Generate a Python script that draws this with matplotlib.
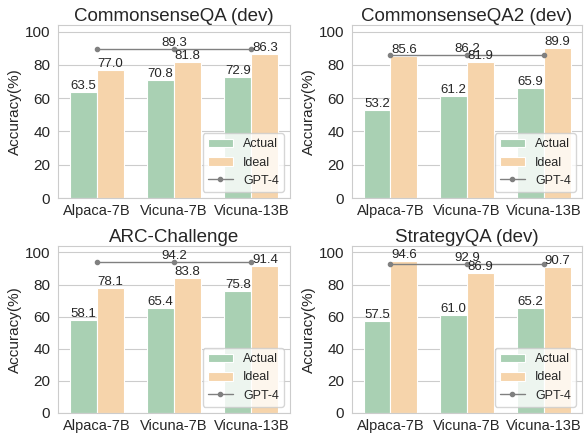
import numpy as np
import matplotlib.pyplot as plt
import seaborn as sns

sns.set_style('whitegrid')
plt.rcParams['font.family'] = ['Liberation Sans', 'DejaVu Sans']

models = ['Alpaca-7B', 'Vicuna-7B', 'Vicuna-13B']
titles = ['CommonsenseQA (dev)', 'CommonsenseQA2 (dev)', 'ARC-Challenge', 'StrategyQA (dev)']
actual = [[63.5, 70.8, 72.9], [53.2, 61.2, 65.9], [58.1, 65.4, 75.8], [57.5, 61.0, 65.2]]
ideal = [[77.0, 81.8, 86.3], [85.6, 81.9, 89.9], [78.1, 83.8, 91.4], [94.6, 86.9, 90.7]]
gpt4 = [89.3, 86.2, 94.2, 92.9]

green = '#a9d0b3'
orange = '#f6d4ab'
w = 0.35

fig = plt.figure(figsize=(5.85, 4.34), dpi=100)
W, H = 585, 434
# axes boxes in pixels: left, top, right, bottom
boxes = [(58, 25, 290, 198), (352, 25, 582, 198), (58, 246, 290, 413), (352, 246, 582, 413)]
for i, (l, t, r, b) in enumerate(boxes):
    ax = fig.add_axes([l / W, 1 - b / H, (r - l) / W, (b - t) / H])
    x = np.arange(len(models))
    b1 = ax.bar(x - w / 2, actual[i], w, color=green, edgecolor='white', linewidth=0.8, label='Actual')
    b2 = ax.bar(x + w / 2, ideal[i], w, color=orange, edgecolor='white', linewidth=0.8, label='Ideal')
    ln, = ax.plot(x, [gpt4[i]] * len(x), color='gray', marker='o', markersize=3, linewidth=1, label='GPT-4')
    for bar in list(b1) + list(b2):
        ax.text(bar.get_x() + bar.get_width() / 2, bar.get_height(), f'{bar.get_height():.1f}',
                ha='center', va='bottom', fontsize=9.5)
    ax.text(1, gpt4[i], f'{gpt4[i]:.1f}', ha='center', va='bottom', fontsize=9.5)
    ax.set_xticks(x)
    ax.set_xticklabels(models, fontsize=10.5)
    ax.set_xlim(-0.5, 2.5)
    ax.set_ylim(0, 104)
    ax.set_yticks([0, 20, 40, 60, 80, 100])
    ax.tick_params(axis='y', labelsize=11, pad=2)
    ax.tick_params(axis='x', pad=0.5)
    ax.set_ylabel('Accuracy(%)', fontsize=11, labelpad=2)
    ax.set_title(titles[i], fontsize=13.5, pad=3)
    ax.grid(axis='x', visible=False)
    ax.legend([b1, b2, ln], ['Actual', 'Ideal', 'GPT-4'], loc='lower right', fontsize=9,
              frameon=True)

plt.savefig('out.png', dpi=100)
